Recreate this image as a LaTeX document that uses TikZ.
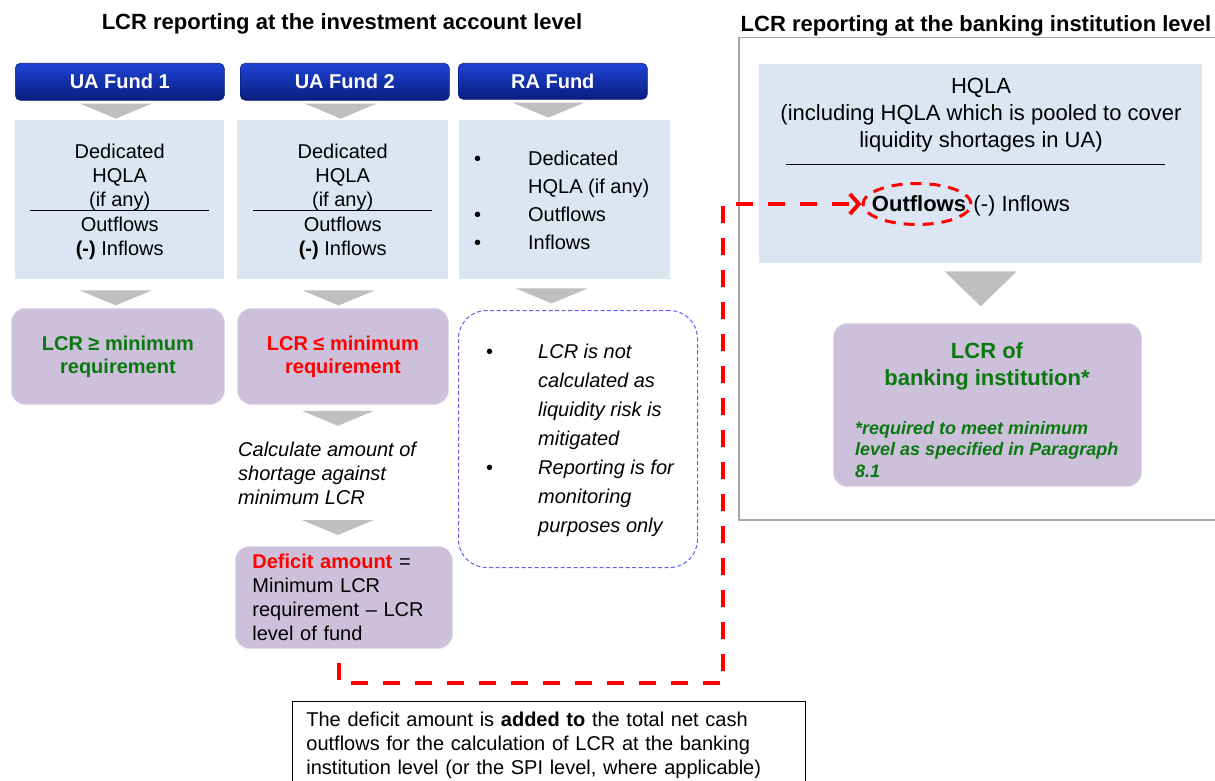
\documentclass[tikz,border=0pt]{standalone}
\usepackage{fontspec}
\setmainfont{Liberation Sans}
\usetikzlibrary{positioning,arrows.meta,shapes.geometric}

\definecolor{navytop}{HTML}{1D44D6}
\definecolor{navybot}{HTML}{0A1D7E}
\definecolor{iceblue}{HTML}{DCE6F2}
\definecolor{lilac}{HTML}{CCC0DA}
\definecolor{chevgray}{HTML}{BFBFBF}
\definecolor{passgreen}{HTML}{08780F}
\definecolor{failred}{HTML}{FF0000}
\definecolor{notblue}{HTML}{6060F0}
\definecolor{framegray}{HTML}{A6A6A6}

\newcommand{\fsz}[2]{\fontsize{#1}{#2}\selectfont}
\newcommand{\ritem}[1][47pt]{\llap{\upshape •\hspace{#1}}}

\tikzset{
  fundhead/.style={anchor=north west, rounded corners=5pt, top color=navytop,
    bottom color=navybot, draw=navybot, line width=0.6pt, text=white,
    font=\fsz{20}{24}\bfseries, minimum width=209pt, minimum height=37pt, inner sep=0pt},
  calcbox/.style={anchor=north west, fill=iceblue, minimum height=159pt, inner sep=0pt},
  resultbox/.style={anchor=north west, fill=lilac, draw=lilac!60!white, line width=0.8pt,
    rounded corners=14pt, inner sep=0pt},
  bodytext/.style={font=\fsz{20}{24}, inner sep=0pt, align=center},
  deficitlink/.style={draw=failred, line width=4pt, dash pattern=on 17pt off 15pt,
    -{Straight Barb[length=9pt,width=20pt]}},
  chev/.pic={\fill[chevgray] (-36,0) -- (36,0) -- (0,15) -- cycle;}
}

\begin{document}
\begin{tikzpicture}[x=1pt,y=-1pt]
\useasboundingbox (0,0) rectangle (1215,781);

\node[font=\fsz{22}{26}\bfseries] (lefttitle) at (342,24) {LCR reporting at the investment account level};
\node[font=\fsz{22}{26}\bfseries] (righttitle) at (976,26) {LCR reporting at the banking institution level};

% unrestricted funds
\foreach \n/\hx/\bx/\bw/\rx/\rw/\col/\rel in {1/15/15/209/11/213/passgreen/≥, 2/240/237/211/237/211/failred/≤}{
  \node[fundhead] (head\n) at (\hx,63) {UA Fund \n};
  \node[calcbox, minimum width=\bw pt] (box\n) at (\bx,120) {};
  \node[bodytext] (hqla\n) at ([yshift=-57pt]box\n.north) {Dedicated\\HQLA\\(if any)};
  \draw[line width=0.8pt] ([shift={(-89.5pt,-90pt)}]box\n.north) -- ([shift={(89.5pt,-90pt)}]box\n.north);
  \node[bodytext] (flows\n) at ([yshift=-118pt]box\n.north) {Outflows\\\textbf{(-)} Inflows};
  \node[resultbox, minimum width=\rw pt, minimum height=96pt, text=\col,
    font=\fsz{20}{23}\bfseries, align=center] (res\n) at (\rx,308) {LCR \rel{} minimum\\requirement};
  \pic at ([shift={(-4pt,-3pt)}]head\n.south) {chev};
  \pic at ([shift={(-4pt,-11pt)}]box\n.south) {chev};
}

% restricted fund
\node[fundhead, minimum width=189pt, minimum height=36pt] (head3) at (458,63) {RA Fund};
\node[calcbox, minimum width=211pt] (box3) at (459,120) {};
\node[font=\fsz{20}{28}, align=left, anchor=west, inner sep=0pt] (ralist) at (528,200)
  {\ritem Dedicated\\HQLA (if any)\\\ritem Outflows\\\ritem Inflows};
\pic at ([shift={(-4.5pt,-3pt)}]head3.south) {chev};
\pic at ([shift={(-13pt,-9pt)}]box3.south) {chev};
\node[draw=notblue, dash pattern=on 4pt off 2.5pt, line width=1pt, rounded corners=28pt,
  anchor=north west, minimum width=239pt, minimum height=257pt, inner sep=0pt] (note) at (458,310) {};
\node[font=\fsz{20}{29}\itshape, align=left, anchor=west, inner sep=0pt] (notetext) at (538,440)
  {\ritem[45pt]LCR is not\\calculated as\\liquidity risk is\\mitigated\\\ritem[45pt]Reporting is for\\monitoring\\purposes only};

% shortage of fund 2
\pic at ([shift={(-5pt,-6pt)}]res2.south) {chev};
\node[font=\fsz{20}{24}\itshape, align=left, anchor=north west, inner sep=0pt] (shortfall) at (238,442)
  {Calculate amount of\\shortage against\\minimum LCR};
\node[resultbox, minimum width=217pt, minimum height=102pt, text width=183pt, inner xsep=17pt,
  align=left, font=\fsz{20}{24}] (deficit) at (235,546)
  {\textcolor{failred}{\textbf{Deficit amount}} =\\Minimum LCR\\requirement – LCR\\level of fund};
\pic at ([shift={(-6pt,26pt)}]deficit.north) {chev};

% banking institution level
\node[draw=framegray, line width=1.5pt, anchor=north west, minimum width=492pt,
  minimum height=482pt, inner sep=0pt] (panel) at (738,37) {};
\node[calcbox, minimum width=443pt, minimum height=199pt] (pool) at (759,64) {};
\node[font=\fsz{22}{27}, align=center, inner sep=0pt] (pooltext) at (981,115)
  {HQLA\\(including HQLA which is pooled to cover\\liquidity shortages in UA)};
\draw[line width=0.8pt] ([shift={(27pt,-100pt)}]pool.north west) -- ([shift={(-37pt,-100pt)}]pool.north east);
\node[font=\fsz{22}{26}\bfseries, inner sep=0pt] (outflow) at (919,204) {Outflows};
\node[font=\fsz{22}{26}, inner sep=0pt, anchor=base west] (inflow) at ([xshift=7pt]outflow.base east) {(-) Inflows};
\node[ellipse, draw=failred, line width=3pt, dash pattern=on 11pt off 8pt,
  minimum width=108pt, minimum height=41pt, inner sep=0pt] (ring) at (917,204) {};
\pic[yscale=2.33] at ([yshift=-8pt]pool.south) {chev};
\node[resultbox, minimum width=308pt, minimum height=163pt] (bankres) at (833,323) {};
\node[font=\fsz{22}{27}\bfseries, text=passgreen, align=center, inner sep=0pt] (banktitle) at (987,366)
  {LCR of\\banking institution*};
\node[font=\fsz{18}{21.5}\bfseries\itshape, text=passgreen, align=left, anchor=north west,
  inner sep=0pt] (banknote) at (855,421) {*required to meet minimum\\level as specified in Paragraph\\8.1};

% deficit carried to the institution
\coordinate (gapend) at ([shift={(-5pt,-14pt)}]deficit.south);
\coordinate (elbow) at (723,683);
\draw[deficitlink] (gapend) |- (elbow) |- (ring.west);

\node[draw, line width=0.8pt, anchor=north west, text width=485pt, inner xsep=14pt, inner ysep=11pt,
  align=left, font=\fsz{20}{24}] (summary) at (292,701)
  {The deficit amount is \textbf{added to} the total net cash\\outflows for the calculation of LCR at the banking\\institution level (or the SPI level, where applicable)};
\end{tikzpicture}
\end{document}
